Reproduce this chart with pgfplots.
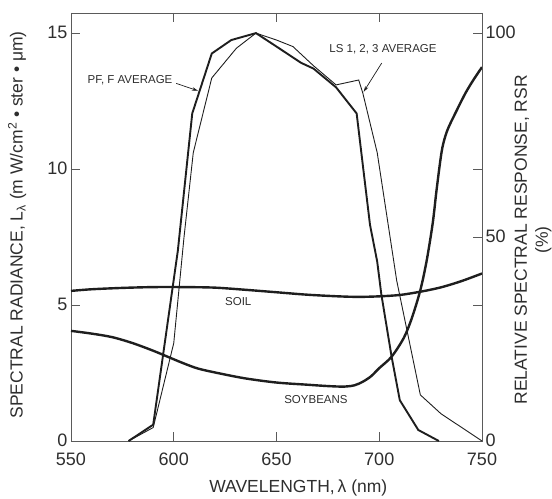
\documentclass[border=0pt]{standalone}
\usepackage{pgfplots}
\pgfplotsset{compat=1.18}
\usepackage{pgfplotstable}
\usepackage{fontspec}
\setmainfont{Liberation Sans}
\usetikzlibrary{arrows.meta}
\definecolor{ink}{HTML}{1E1E1E}
\definecolor{spine}{HTML}{5A5A5A}
\definecolor{txt}{HTML}{2E2E2E}

\pgfplotstableread{
x y
550 5.52
560 5.58
575 5.63
590 5.66
605 5.66
620 5.64
635 5.56
650 5.47
665 5.38
680 5.32
690 5.30
700 5.32
710 5.37
720 5.49
730 5.65
740 5.88
750 6.16
}\soil

\pgfplotstableread{
x y
550 4.05
560 3.95
570 3.82
580 3.60
590 3.32
597 3.10
605 2.85
612 2.66
622 2.49
635 2.30
650 2.15
665 2.07
675 2.02
683 2.00
688 2.05
692 2.18
696 2.38
700 2.68
706 3.10
712 3.80
716 4.55
720 5.55
723 6.60
726 8.00
728 9.30
730.5 10.70
733 11.40
737 12.05
742 12.80
746 13.30
750 13.75
}\soy

\pgfplotstableread{
x y
578 0
590 4
602 46.7
609 80.3
618.5 95
628 98.3
640 100
650 96.7
662 92.7
668 91.3
679 86.7
689 80.3
692.3 66.4
695.5 53
699 44
701 36
706 20.7
710 10
719 2.7
729 0
}\pff

\pgfplotstableread{
x y
578 0
590 3.3
600 24
605 50
609.5 70.7
618.5 89
630.5 96.3
640 100
650 98.3
658 96.7
668 92
679 87.3
690 88.5
692 85.3
699 70.7
708.5 39.3
720 11.3
730 6.7
750 0
}\ls

\begin{document}
\begin{tikzpicture}
\pgfplotsset{every axis/.append style={
  scale only axis, width=411bp, height=428bp,
  xmin=550, xmax=750,
  tick align=inside, major tick length=9bp,
  tick style={spine, line width=0.7bp},
  axis line style={spine, line width=0.8bp},
  tick label style={font=\fontsize{18bp}{21bp}\selectfont, text=txt},
  label style={font=\fontsize{17.5bp}{21bp}\selectfont, text=txt},
  /pgf/number format/assume math mode=true,
}}
\begin{axis}[
  ymin=0, ymax=15.74,
  xtick={550,600,650,700,750}, ytick={0,5,10,15},
  xtick pos=both, ytick pos=both,
  xticklabel pos=bottom, yticklabel pos=left,
  xticklabel style={yshift=-8bp},
  yticklabel style={yshift=1bp},
  xlabel={WAVELENGTH,\,λ (nm)},
  xlabel style={at={(axis description cs:0.553,-0.11)}, anchor=center},
  ylabel={SPECTRAL RADIANCE, L\textsubscript{λ} (m W/cm\textsuperscript{2} • ster • μm)},
  ylabel style={at={(axis description cs:-0.131,0.505)}, anchor=center},
]
\coordinate (SW) at (rel axis cs:0,0);
\coordinate (NE) at (rel axis cs:1,1);
\addplot[ink, line width=2.4bp, smooth, tension=0.5] table[x=x,y=y]{\soil};
\addplot[ink, line width=2.4bp, smooth, tension=0.5] table[x=x,y=y]{\soy};
\node[font=\fontsize{11.5bp}{13bp}\selectfont, text=txt] at (axis cs:578.7,13.25) {PF, F AVERAGE};
\draw[ink, line width=0.7bp, -{Stealth[length=6bp,width=3.5bp]}] (axis cs:601.2,13.15) -- (axis cs:611.8,12.88);
\node[font=\fontsize{11.5bp}{13bp}\selectfont, text=txt] at (axis cs:701.8,14.41) {LS 1, 2, 3 AVERAGE};
\draw[ink, line width=0.7bp, -{Stealth[length=6bp,width=3.5bp]}] (axis cs:701.2,13.9) -- (axis cs:692.4,12.84);
\node[font=\fontsize{11.5bp}{13bp}\selectfont, text=txt] at (axis cs:631.4,5.12) {SOIL};
\node[font=\fontsize{11.5bp}{13bp}\selectfont, text=txt] at (axis cs:669.2,1.54) {SOYBEANS};
\end{axis}
\begin{axis}[
  ymin=0, ymax=104.93,
  axis x line=none, axis y line*=right,
  ytick={0,50,100},
  yticklabel style={yshift=1bp},
  ylabel={RELATIVE SPECTRAL RESPONSE, RSR\\(\%)},
  ylabel style={at={(axis description cs:1.124,0.47)}, anchor=center, align=center},
]
\addplot[ink, line width=1.9bp] table[x=x,y=y]{\pff};
\addplot[ink, line width=0.9bp] table[x=x,y=y]{\ls};
\end{axis}
\pgfresetboundingbox
\path ([xshift=-71bp,yshift=-58bp]SW) rectangle ([xshift=70bp,yshift=13bp]NE);
\end{tikzpicture}
\end{document}
